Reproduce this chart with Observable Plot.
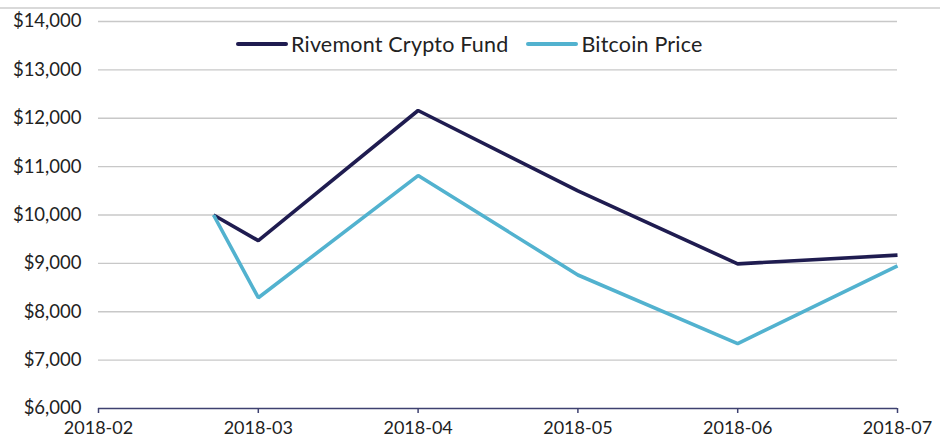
<!DOCTYPE html>
<html>
<head>
<meta charset="utf-8">
<script src="https://cdn.jsdelivr.net/npm/d3@7"></script>
<script src="https://cdn.jsdelivr.net/npm/@observablehq/plot@0.6"></script>
<style>
  body { margin: 0; background: #fff; font-family: Lato, "Noto Sans", sans-serif; }
  #wrap { position: relative; width: 945px; height: 438px; overflow: hidden; }
  #topline { position: absolute; left: 0; top: 7px; width: 940px; height: 2px; background: #d9d9d9; }
  #legend { position: absolute; top: 31px; left: 236px; display: flex; align-items: center; font-size: 21.5px; color: #222; letter-spacing: 0.2px; }
  .sw { display: inline-block; width: 52px; height: 4px; border-radius: 2px; margin-right: 3px; }
  .item { display: flex; align-items: center; margin-right: 18px; }
</style>
</head>
<body>
<div id="wrap">
  <div id="topline"></div>
  <div id="chart"></div>
  <div id="legend"></div>
</div>
<script>
// Month tick labels (x positions are months since 2018-02)
const months = ["2018-02", "2018-03", "2018-04", "2018-05", "2018-06", "2018-07"];
const xMonth = [0.72, 1, 2, 3, 4, 5];
const seriesNames = ["Rivemont Crypto Fund", "Bitcoin Price"];
const fundValues = [10000, 9470, 12160, 10500, 8990, 9170];
const btcValues = [10000, 8290, 10815, 8760, 7340, 8950];
const yTicks = [6000, 7000, 8000, 9000, 10000, 11000, 12000, 13000, 14000];
const colors = ["#1f1c50", "#52b2cf"];

const data = [
  ...xMonth.map((x, i) => ({x, y: fundValues[i], s: seriesNames[0]})),
  ...xMonth.map((x, i) => ({x, y: btcValues[i], s: seriesNames[1]}))
];

const fmt = d => "$" + d3.format(",")(d);

const chart = Plot.plot({
  width: 945,
  height: 438,
  marginLeft: 98,
  marginRight: 48,
  marginTop: 21,
  marginBottom: 30,
  style: {fontFamily: "Lato, 'Noto Sans', sans-serif", fontSize: "18px", color: "#222", background: "transparent", overflow: "visible"},
  x: {type: "linear", domain: [0, 5], ticks: d3.range(months.length), tickFormat: i => months[i], label: null},
  y: {domain: [6000, 14000], ticks: yTicks, tickFormat: fmt, label: null},
  color: {domain: seriesNames, range: colors},
  marks: [
    Plot.gridY(yTicks.filter(t => t > 6000), {stroke: "#c8c8c8", strokeOpacity: 1, strokeWidth: 1.3}),
    Plot.axisY({ticks: yTicks, tickFormat: fmt, tickSize: 0, tickPadding: 17, fontSize: 18.5, fill: "#222", label: null}),
    Plot.ruleY([6000], {stroke: "#3e4170", strokeWidth: 1.5}),
    Plot.axisX({ticks: d3.range(months.length), tickFormat: i => months[i], tickSize: 5, stroke: "#3e4170", strokeWidth: 1.5, tickPadding: 7.5, fontSize: 18, fill: "#222", label: null}),
    Plot.line(data, {x: "x", y: "y", z: "s", stroke: "s", strokeWidth: 3.6, strokeLinejoin: "miter", strokeLinecap: "butt"})
  ]
});
document.getElementById("chart").appendChild(chart);

const legend = document.getElementById("legend");
seriesNames.forEach((n, i) => {
  const item = document.createElement("div");
  item.className = "item";
  const sw = document.createElement("span");
  sw.className = "sw";
  sw.style.background = colors[i];
  const t = document.createElement("span");
  t.textContent = n;
  item.appendChild(sw);
  item.appendChild(t);
  legend.appendChild(item);
});
</script>
</body>
</html>
